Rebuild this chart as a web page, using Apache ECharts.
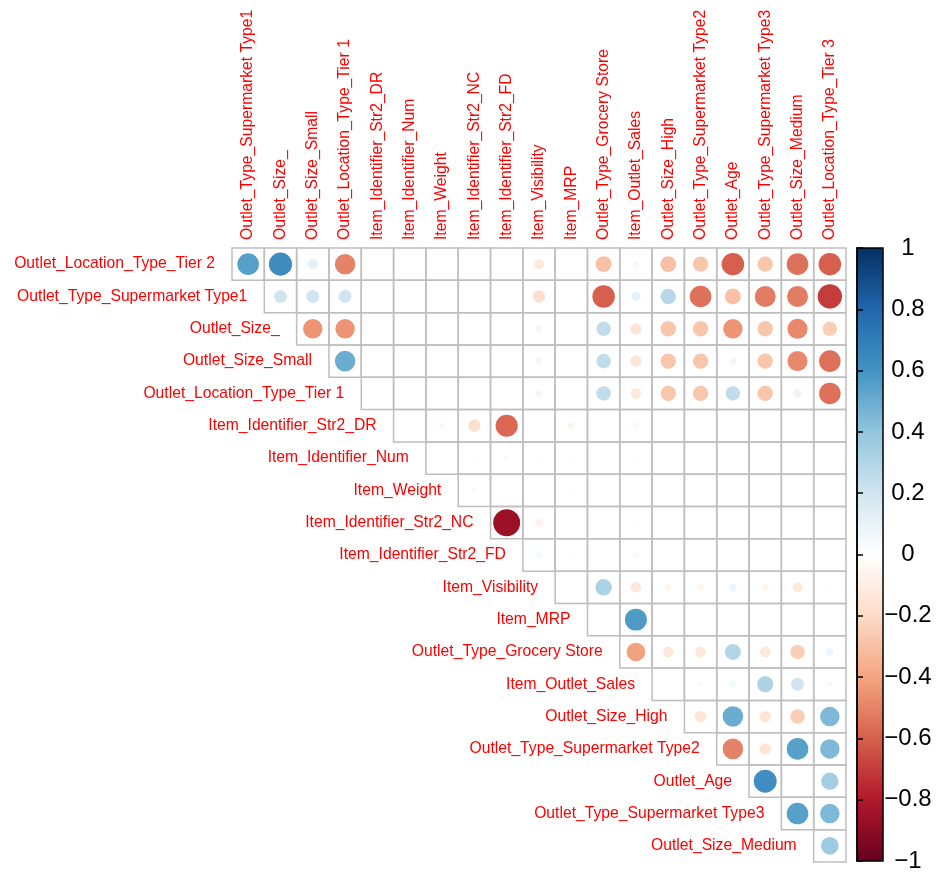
<!DOCTYPE html>
<html>
<head>
<meta charset="utf-8">
<title>corrplot</title>
<script src="https://cdn.jsdelivr.net/npm/echarts@6/dist/echarts.min.js"></script>
<style>
    html, body { margin: 0; padding: 0; background: #fff; }
    #chart { width: 937px; height: 873px; }
</style>
</head>
<body>
<div id="chart"></div>
<script>
    // variable order (rows use 0..18, columns use 1..19)
    var varNames = [
        'Outlet_Location_Type_Tier 2', 'Outlet_Type_Supermarket Type1', 'Outlet_Size_',
        'Outlet_Size_Small', 'Outlet_Location_Type_Tier 1', 'Item_Identifier_Str2_DR',
        'Item_Identifier_Num', 'Item_Weight', 'Item_Identifier_Str2_NC', 'Item_Identifier_Str2_FD',
        'Item_Visibility', 'Item_MRP', 'Outlet_Type_Grocery Store', 'Item_Outlet_Sales',
        'Outlet_Size_High', 'Outlet_Type_Supermarket Type2', 'Outlet_Age',
        'Outlet_Type_Supermarket Type3', 'Outlet_Size_Medium', 'Outlet_Location_Type_Tier 3'
    ];
    var rowNames = varNames.slice(0, 19);
    var colNames = varNames.slice(1);

    // upper triangle, row i holds correlations with variables i+1 .. 19
    var upper = [
        [0.55, 0.63, 0.12, -0.5, 0, 0, 0, 0, 0, -0.12, 0.01, -0.3, 0.05, -0.3, -0.28, -0.6, -0.28, -0.55, -0.6],
        [0.2, 0.2, 0.2, 0, 0, 0, 0, 0, -0.18, 0.01, -0.6, 0.1, 0.28, -0.55, -0.3, -0.52, -0.52, -0.7],
        [-0.45, -0.45, 0, 0, 0, 0.01, 0, 0.06, 0, 0.25, -0.15, -0.28, -0.28, -0.45, -0.28, -0.48, -0.25],
        [0.5, 0, 0, 0, 0, 0, 0.06, 0, 0.25, -0.15, -0.28, -0.28, 0.06, -0.28, -0.48, -0.55],
        [0, 0, 0, 0, 0, 0.06, 0, 0.25, -0.13, -0.28, -0.28, 0.25, -0.28, 0.08, -0.55],
        [0.01, -0.04, -0.18, -0.58, 0.01, -0.06, 0.01, -0.05, 0, 0, 0, 0.01, 0, 0],
        [0.01, -0.02, 0.03, -0.02, -0.02, 0.01, 0.02, 0, 0, 0, 0, 0, 0],
        [0.03, 0.01, -0.01, 0.02, 0, 0.01, 0.01, 0, 0.01, 0, 0, 0],
        [-0.86, -0.07, 0.01, 0, 0.02, 0, 0, 0, 0, 0, 0],
        [0.05, 0.02, 0.01, 0.04, 0, 0, 0, 0.01, 0, 0],
        [0.01, 0.32, -0.13, -0.06, -0.06, 0.07, -0.06, -0.12, -0.02],
        [0, 0.57, 0, 0, 0, 0, 0, 0],
        [-0.41, -0.13, -0.13, 0.3, -0.13, -0.25, 0.07],
        [0.01, -0.03, 0.05, 0.31, 0.2, 0.04],
        [-0.15, 0.5, -0.15, -0.25, 0.45],
        [-0.5, -0.15, 0.55, 0.45],
        [0.62, 0.01, 0.35],
        [0.55, 0.45],
        [0.37]
    ];

    var barTicks = ['\u22121', '\u22120.8', '\u22120.6', '\u22120.4', '\u22120.2', '0', '0.2', '0.4', '0.6', '0.8', '1'];

    // RdBu palette used by corrplot
    var rdbu = ['#67001F', '#B2182B', '#D6604D', '#F4A582', '#FDDBC7', '#FFFFFF',
                '#D1E5F0', '#92C5DE', '#4393C3', '#2166AC', '#053061'];

    var font = 'Liberation Sans, Arial, sans-serif';

    var cells = [];
    for (var i = 0; i < upper.length; i++) {
        for (var k = 0; k < upper[i].length; k++) {
            // column index on x axis = (i + 1 + k) - 1
            cells.push([i + k, i, upper[i][k]]);
        }
    }
    var rowLabels = [];
    for (var i = 0; i < rowNames.length; i++) {
        rowLabels.push([i, i]);
    }
    var colLabels = [];
    for (var j = 0; j < colNames.length; j++) {
        colLabels.push([j, 0]);
    }

    var myChart = echarts.init(document.getElementById('chart'));
    myChart.setOption({
        backgroundColor: '#fff',
        animation: false,
        grid: [
            { left: 232, top: 248, width: 614, height: 614 },
            // frame + ticks of the colour bar
            { left: 857, top: 248, width: 26, height: 613, show: true, z: 10,
              backgroundColor: 'transparent', borderColor: '#000', borderWidth: 1.5 }
        ],
        xAxis: [
            {
                type: 'category',
                data: colNames,
                position: 'top',
                axisLine: { show: false },
                axisTick: { show: false },
                splitLine: { show: false },
                axisLabel: { show: false }
            },
            { type: 'value', gridIndex: 1, show: false }
        ],
        yAxis: [
            {
                type: 'category',
                data: rowNames,
                inverse: true,
                axisLine: { show: false },
                axisTick: { show: false },
                axisLabel: { show: false },
                splitLine: { show: false }
            },
            {
                type: 'value',
                gridIndex: 1,
                min: -1, max: 1, interval: 0.2,
                position: 'right',
                z: 10,
                axisLine: { show: true, lineStyle: { color: '#000', width: 1.5 } },
                axisTick: { show: true, length: 6, lineStyle: { color: '#000', width: 1.5 } },
                splitLine: { show: false },
                axisLabel: {
                    margin: 25, align: 'center', color: '#000',
                    fontSize: 24, fontFamily: font,
                    formatter: function (v) {
                        return barTicks[Math.round((v + 1) / 0.2)];
                    }
                }
            }
        ],
        visualMap: {
            type: 'continuous',
            min: -1, max: 1,
            dimension: 2,
            seriesIndex: 0,
            calculable: false,
            showLabel: false,
            text: null,
            padding: 0,
            left: 857, top: 248,
            itemWidth: 26, itemHeight: 613,
            inRange: { color: rdbu }
        },
        series: [
            {
                type: 'custom',
                data: cells,
                renderItem: function (params, api) {
                    var c = api.coord([api.value(0), api.value(1)]);
                    var s = api.size([1, 1]);
                    var r = api.value(2);
                    var rad = 0.9 * Math.sqrt(Math.abs(r)) / 2 * s[0];
                    return {
                        type: 'group',
                        children: [
                            {
                                type: 'rect',
                                shape: { x: c[0] - s[0] / 2, y: c[1] - s[1] / 2, width: s[0], height: s[1] },
                                style: { fill: null, stroke: '#BEBEBE', lineWidth: 1.5 }
                            },
                            {
                                type: 'circle',
                                shape: { cx: c[0], cy: c[1], r: rad },
                                style: { fill: api.visual('color') }
                            }
                        ]
                    };
                }
            },
            {
                // row names sit just left of the first cell in each row
                type: 'custom',
                data: rowLabels,
                renderItem: function (params, api) {
                    var c = api.coord([api.value(0), api.value(1)]);
                    var s = api.size([1, 1]);
                    return {
                        type: 'text',
                        style: {
                            x: c[0] - s[0] / 2 - 17,
                            y: c[1],
                            text: rowNames[params.dataIndex],
                            fill: '#FF0000',
                            font: '15.7px ' + font,
                            align: 'right',
                            verticalAlign: 'middle'
                        }
                    };
                }
            },
            {
                // column names, vertical, reading upwards from above the top row
                type: 'custom',
                data: colLabels,
                renderItem: function (params, api) {
                    var c = api.coord([api.value(0), api.value(1)]);
                    var s = api.size([1, 1]);
                    return {
                        type: 'text',
                        x: c[0],
                        y: c[1] - s[1] / 2 - 8,
                        rotation: Math.PI / 2,
                        style: {
                            x: 0, y: 0,
                            text: colNames[params.dataIndex],
                            fill: '#FF0000',
                            font: '15.7px ' + font,
                            align: 'left',
                            verticalAlign: 'middle'
                        }
                    };
                }
            }
        ]
    });
</script>
</body>
</html>
